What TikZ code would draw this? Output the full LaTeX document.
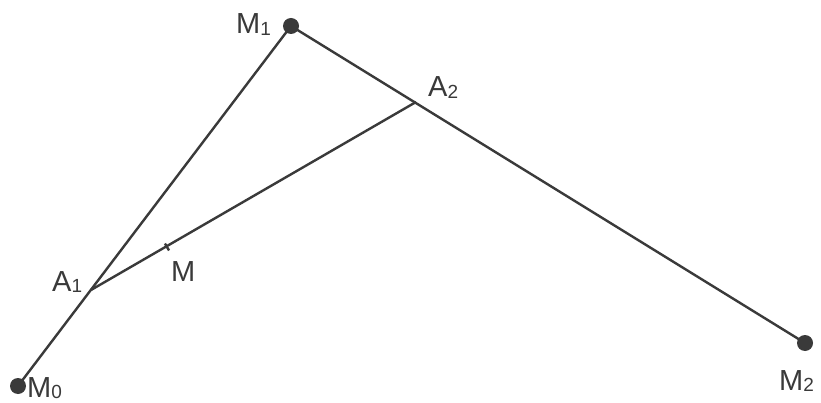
\documentclass[tikz,border=0pt]{standalone}
\usepackage{fontspec}
\usetikzlibrary{calc}
\setmainfont{Liberation Sans}
\definecolor{ink}{HTML}{3A3A3A}
\newcommand{\lbl}[2]{#1\raisebox{-0.04em}{\fontsize{19}{19}\selectfont #2}}
\begin{document}
\begin{tikzpicture}[x=1pt,y=-1pt,
  seg/.style={draw=ink,line width=2.4pt},
  dot/.style={circle,fill=ink,inner sep=0pt,minimum size=16pt},
  lab/.style={text=ink,font=\fontsize{29}{29}\selectfont,inner sep=0pt,anchor=base west},
  tick/.style={draw=ink,line width=2.4pt}]
\useasboundingbox (0,0) rectangle (821,403);
\fill[white] (0,0) rectangle (821,403);
\node[dot] (M0) at (18,386) {};
\node[dot] (M1) at (291,26) {};
\node[dot] (M2) at (805,343) {};
\coordinate (A1) at (91,290);
\coordinate (A2) at (416,102);
\coordinate (M) at (167,247);
\draw[seg] (M0.center) -- (M1.center) -- (M2.center);
\draw[seg] (A1) -- (A2);
\draw[tick] ($(M)!4pt!90:(A2)$) -- ($(M)!-4pt!90:(A2)$);
\node[lab] (tM0) at (27,397) {\lbl{M}{0}};
\node[lab] (tM1) at (236,34) {\lbl{M}{1}};
\node[lab] (tA2) at (428,97) {\lbl{A}{2}};
\node[lab] (tA1) at (52,291) {\lbl{A}{1}};
\node[lab] (tM) at (171,281) {M};
\node[lab] (tM2) at (779,390) {\lbl{M}{2}};
\end{tikzpicture}
\end{document}
